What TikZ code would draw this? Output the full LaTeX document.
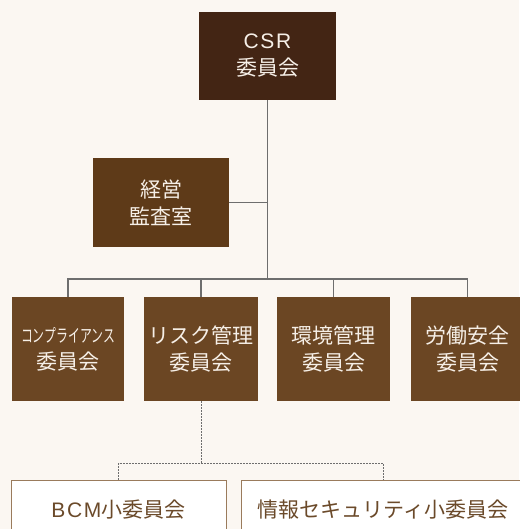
\documentclass[tikz,border=0pt]{standalone}
\usepackage{fontspec}
\usepackage{graphicx}
\setmainfont{Noto Sans CJK JP}
\newfontfamily\latf[LetterSpace=8]{Liberation Sans}
\definecolor{bg}{HTML}{FBF7F2}
\definecolor{csrc}{HTML}{432514}
\definecolor{auditc}{HTML}{5E3A18}
\definecolor{comc}{HTML}{6B4623}
\definecolor{txtw}{HTML}{F6EFE7}
\definecolor{linec}{HTML}{6E6E6E}
\definecolor{subb}{HTML}{9A7B5C}
\definecolor{subt}{HTML}{6B4A2A}
\tikzset{
  box/.style={inner sep=0pt, align=center, text=txtw, font=\fontsize{21}{27}\selectfont},
  subbox/.style={draw=subb, line width=1pt, fill=white, inner sep=0pt, text=subt, font=\fontsize{21}{27}\selectfont},
  conn/.style={draw=linec, line width=1.4pt},
  dotconn/.style={draw=linec, line width=1pt, dash pattern=on 1.5pt off 1.5pt}
}
\begin{document}
\begin{tikzpicture}[x=1pt,y=-1pt]
\useasboundingbox (0,0) rectangle (519,529);
\fill[bg] (0,0) rectangle (519,529);
\node[box, fill=csrc, minimum width=137pt, minimum height=88pt] (csr) at (267.5,56) {{\latf CSR}\\委員会};
\node[box, fill=auditc, minimum width=136pt, minimum height=89pt] (audit) at (161,202.5) {経営\\監査室};
\node[box, fill=comc, minimum width=112pt, minimum height=104pt] (comp) at (68,349) {\scalebox{0.66}[1]{\fontsize{18}{18}\selectfont コンプライアンス}\\委員会};
\node[box, fill=comc, minimum width=114pt, minimum height=104pt] (risk) at (201,349) {リスク管理\\委員会};
\node[box, fill=comc, minimum width=113pt, minimum height=104pt] (env) at (333.5,349) {環境管理\\委員会};
\node[box, fill=comc, minimum width=113pt, minimum height=104pt] (labor) at (467.5,349) {労働安全\\委員会};
\node[subbox, minimum width=215pt, minimum height=60pt] (bcm) at (118.5,510) {{\latf BCM}小委員会};
\node[subbox, minimum width=284pt, minimum height=60pt] (info) at (383,510) {情報セキュリティ小委員会};
\coordinate (bus) at (267.5,279);
\coordinate (dj) at (201,463);
\draw[conn] (csr.south) -- (bus);
\draw[conn] (audit.east) -- (audit.east -| csr.south);
\draw[conn] (comp.north) |- (bus) -| (labor.north);
\draw[conn] (risk.north) -- (risk.north |- bus);
\draw[conn] (env.north) -- (env.north |- bus);
\draw[dotconn] (risk.south) -- (dj);
\draw[dotconn] (bcm.north) |- (dj) -| (info.north);
\end{tikzpicture}
\end{document}
